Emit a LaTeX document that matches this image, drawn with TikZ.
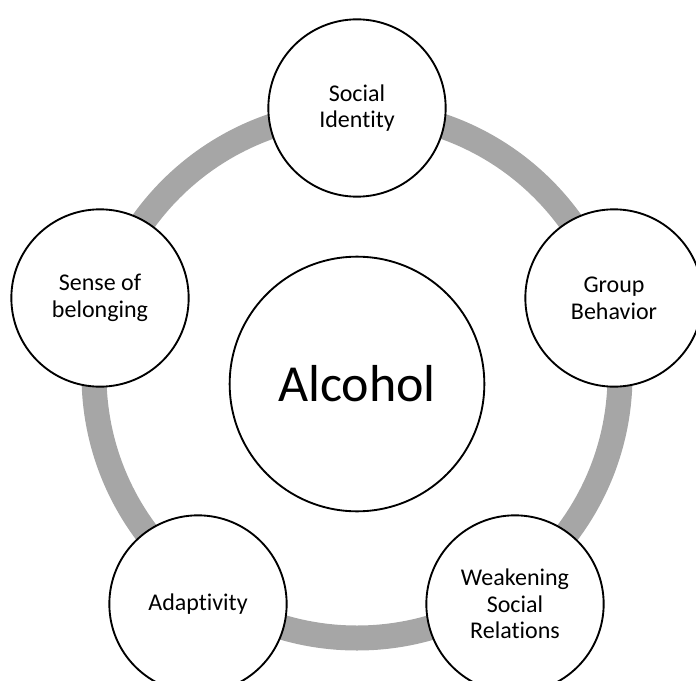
\documentclass[tikz,border=0pt]{standalone}
\usepackage{fontspec}
\setmainfont[Ligatures=NoCommon]{Carlito}
\usepackage{tikz}
\definecolor{ringgray}{RGB}{166,166,166}
\tikzset{
  topic/.style={circle, draw=black, line width=1.4pt, fill=white, minimum size=133pt,
    inner sep=0pt, align=center, font=\fontsize{18}{20}\selectfont},
  hub/.style={topic, minimum size=191pt, font=\fontsize{39}{46}\selectfont},
  ring/.style={draw=ringgray, line width=18.75pt}
}

\begin{document}
\begin{tikzpicture}[x=0.75pt,y=-0.75pt]
    \useasboundingbox (0,0) rectangle (696,681);
    \clip (0,0) rectangle (696,681);
    \coordinate (ARing) at (357,375);
    \draw[ring] (ARing) circle (263);

    \node[hub] (AHub) at (357,384) {Alcohol};
    \node[topic] (ASocial) at (357,108) {Social\\Identity};
    \node[topic] (AGroup) at (614,298) {Group\\Behavior};
    \node[topic] (AWeak) at (515,604) {Weakening\\Social\\Relations};
    \node[topic] (AAdapt) at (198,604) {Adaptivity};
    \node[topic] (ASense) at (100,298) {Sense of\\belonging};
\end{tikzpicture}
\end{document}
